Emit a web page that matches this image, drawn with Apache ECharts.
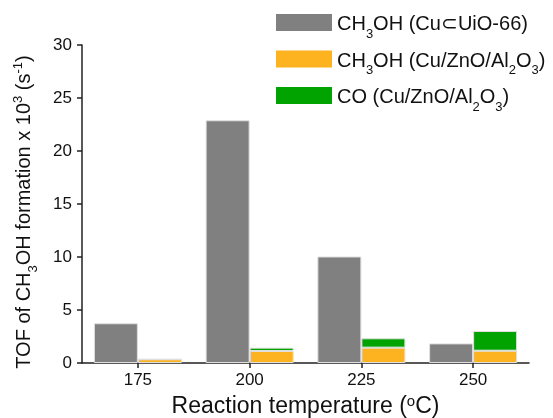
<!DOCTYPE html>
<html><head><meta charset="utf-8">
<script src="https://cdn.jsdelivr.net/npm/echarts@6/dist/echarts.min.js"></script>
<style>html,body{margin:0;padding:0;background:#fff}#c{width:553px;height:418px}</style>
</head><body><div id="c"></div>
<script>
const categories = ['175', '200', '225', '250'];
const ch3ohUiO = [3.75, 22.9, 10.05, 1.85];
const ch3ohCZA = [0.35, 1.13, 1.45, 1.16];
const coCZA = [0.0, 0.32, 0.88, 1.86];
const yTicks = [0, 5, 10, 15, 20, 25, 30];
const seriesNames = ['CH3OH (Cu⊂UiO-66)', 'CH3OH (Cu/ZnO/Al2O3)', 'CO (Cu/ZnO/Al2O3)'];

const F = 'Liberation Sans, Arial, sans-serif';
const chart = echarts.init(document.getElementById('c'));
const legendRich = {
  a: {fontSize: 20, fontFamily: F, color: '#111', lineHeight: 24, verticalAlign: 'bottom'},
  s: {fontSize: 13, fontFamily: F, color: '#111', lineHeight: 24, verticalAlign: 'bottom', padding: [0,0,-6,0]}
};
function legendFmt(n) {
  if (n === seriesNames[0]) return '{a|CH}{s|3}{a|OH (Cu⊂UiO-66)}';
  if (n === seriesNames[1]) return '{a|CH}{s|3}{a|OH (Cu/ZnO/Al}{s|2}{a|O}{s|3}{a|)}';
  return '{a|CO (Cu/ZnO/Al}{s|2}{a|O}{s|3}{a|)}';
}
const border = {borderColor: '#e0e0e0', borderWidth: 1};
chart.setOption({
  animation: false,
  legend: {
    orient: 'vertical', left: 271, top: 9, itemWidth: 56, itemHeight: 17, itemGap: 10,
    icon: 'rect', itemStyle: {borderWidth: 0},
    formatter: legendFmt, textStyle: {rich: legendRich},
    data: seriesNames
  },
  grid: {left: 82, right: 24, top: 45, bottom: 55, outerBoundsMode: 'none', containLabel: false},
  xAxis: {
    type: 'category', data: categories,
    axisLine: {lineStyle: {color: '#222', width: 1.5}},
    axisTick: {show: true, alignWithLabel: true, length: 5, lineStyle: {color: '#222', width: 1.5}},
    axisLabel: {fontSize: 17, fontFamily: F, color: '#111', margin: 9},
    name: '{a|Reaction temperature (}{p|o}{a|C)}',
    nameLocation: 'middle', nameGap: 29,
    nameTextStyle: {rich: {
      a: {fontSize: 23, fontFamily: F, color: '#111', lineHeight: 26, verticalAlign: 'bottom'},
      p: {fontSize: 15, fontFamily: F, color: '#111', lineHeight: 26, verticalAlign: 'bottom', padding: [0,0,9,0]}
    }}
  },
  yAxis: {
    type: 'value', min: 0, max: 30, interval: 5,
    axisLine: {show: true, lineStyle: {color: '#222', width: 1.5}},
    axisTick: {show: true, length: 5, lineStyle: {color: '#222', width: 1.5}},
    splitLine: {show: false},
    axisLabel: {fontSize: 17, fontFamily: F, color: '#111', margin: 10,
      formatter: v => yTicks.includes(v) ? String(v) : ''},
    name: '{a|TOF of CH}{s|3}{a|OH formation x 10}{p|3}{a| (s}{p|-1}{a|)}',
    nameLocation: 'middle', nameGap: 48, nameRotate: 90,
    nameTextStyle: {padding: [0, 16, 0, 0], rich: {
      a: {fontSize: 20, fontFamily: F, color: '#111', lineHeight: 24, verticalAlign: 'bottom'},
      s: {fontSize: 13, fontFamily: F, color: '#111', lineHeight: 24, verticalAlign: 'bottom', padding: [0,0,-6,0]},
      p: {fontSize: 13, fontFamily: F, color: '#111', lineHeight: 24, verticalAlign: 'bottom', padding: [0,0,9,0]}
    }}
  },
  series: [
    {name: seriesNames[0], type: 'bar', stack: 'a', data: ch3ohUiO, barWidth: 44, barGap: '0%',
      itemStyle: Object.assign({color: '#808080'}, border)},
    {name: seriesNames[1], type: 'bar', stack: 'b', data: ch3ohCZA, barWidth: 44, barGap: '0%',
      itemStyle: Object.assign({color: '#FDB21F'}, border)},
    {name: seriesNames[2], type: 'bar', stack: 'b', data: coCZA, barWidth: 44, barGap: '0%',
      itemStyle: Object.assign({color: '#00A300'}, border)}
  ]
});
</script></body></html>
